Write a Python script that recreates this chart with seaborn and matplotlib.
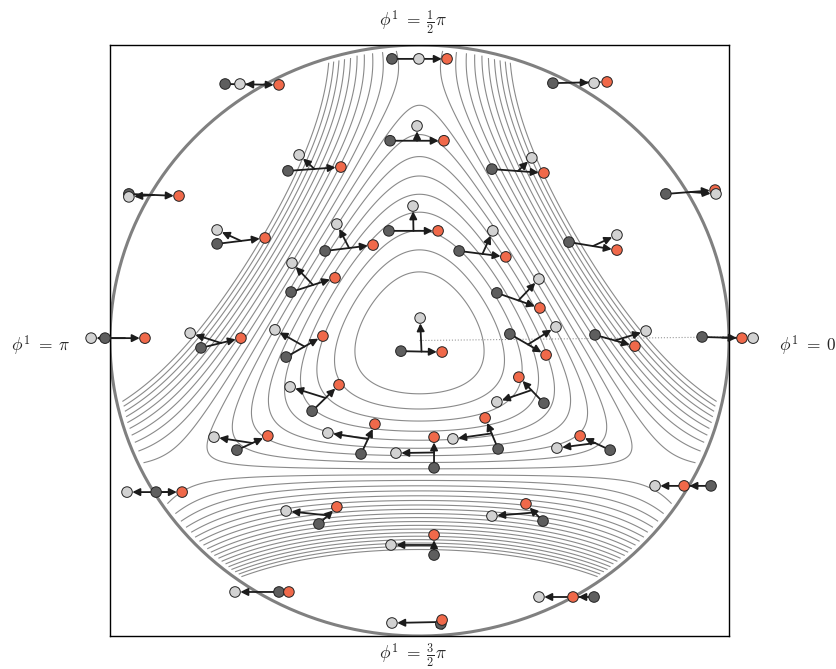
import matplotlib
matplotlib.use('Agg')
import matplotlib.pyplot as plt
import numpy as np
import pandas as pd
import seaborn as sns

# glyph triplets (data coords, unit disk)
dark_x = [-0.628, -0.425, -0.939, -0.654, -0.305, -0.089, -0.095, -0.099, 0.431, 0.234,
          0.796, 0.483, 0.128, -1.016, -0.706, -0.415, -0.431, -0.347, -0.590, -0.189,
          -0.060, 0.250, 0.292, 0.567, 0.913, 0.402, 0.254, 0.616, 0.047, -0.851,
          -0.325, 0.047, -0.454, 0.069, 0.399, 0.564, 0.942]
dark_y = [0.868, 0.574, 0.496, 0.327, 0.303, 0.953, 0.676, 0.371, 0.871, 0.580,
          0.496, 0.333, 0.303, 0.008, -0.025, 0.164, -0.056, -0.239, -0.371, -0.384,
          -0.036, 0.161, 0.022, 0.019, 0.012, -0.212, -0.367, -0.371, -0.431, -0.513,
          -0.621, -0.726, -0.851, -0.959, -0.611, -0.868, -0.492]
light_x = [-0.580, -0.389, -0.939, -0.654, -0.267, -0.002, -0.008, -0.021, 0.564, 0.363,
           0.958, 0.638, 0.237, -1.061, -0.741, -0.412, -0.467, -0.418, -0.664, -0.296,
           0.002, 0.386, 0.441, 0.732, 1.078, 0.250, 0.108, 0.444, -0.076, -0.945,
           -0.431, -0.092, -0.596, -0.089, 0.234, 0.386, 0.761]
light_y = [0.868, 0.628, 0.486, 0.374, 0.394, 0.953, 0.726, 0.455, 0.871, 0.618,
           0.496, 0.357, 0.371, 0.008, 0.025, 0.262, 0.036, -0.157, -0.327, -0.313,
           0.076, 0.208, 0.046, 0.032, 0.008, -0.208, -0.333, -0.364, -0.381, -0.513,
           -0.577, -0.692, -0.851, -0.956, -0.594, -0.868, -0.492]
orange_x = [-0.454, -0.254, -0.777, -0.499, -0.150, 0.089, 0.079, 0.060, 0.606, 0.402,
            0.955, 0.638, 0.279, -0.887, -0.577, -0.273, -0.312, -0.260, -0.490, -0.144,
            0.073, 0.389, 0.409, 0.696, 1.042, 0.321, 0.212, 0.519, 0.047, -0.767,
            -0.267, 0.047, -0.422, 0.073, 0.344, 0.496, 0.855]
orange_y = [0.865, 0.587, 0.489, 0.347, 0.323, 0.953, 0.676, 0.371, 0.875, 0.567,
            0.509, 0.306, 0.283, 0.008, 0.008, 0.212, 0.015, -0.150, -0.323, -0.283,
            -0.039, 0.110, -0.049, -0.019, 0.008, -0.124, -0.262, -0.323, -0.327, -0.513,
            -0.563, -0.658, -0.851, -0.946, -0.553, -0.868, -0.492]

labels = {
    'top': r'$\phi^1\;=\;\frac{1}{2}\pi$',
    'bottom': r'$\phi^1\;=\;\frac{3}{2}\pi$',
    'left': r'$\phi^1\;=\;\pi$',
    'right': r'$\phi^1\;=\;0$',
}

sns.set_style('white')
plt.rcParams['mathtext.fontset'] = 'cm'

fig = plt.figure(figsize=(8.37, 6.69), dpi=100)
ax = fig.add_axes([110 / 837, 1 - 636 / 669, 619 / 837, 591 / 669])

# background potential (three-fold, Henon-Heiles like)
g = np.linspace(-1, 1, 500)
gx, gy = np.meshgrid(g, g)
a = 1.1
X = a * gx
Y = a * (gy - 0.01)
V = 0.5 * (X**2 + Y**2) + X**2 * Y - Y**3 / 3
V[np.hypot(gx, gy) > 0.985] = np.nan
lev = [(k + 0.5) / 60 for k in range(1, 20)]
ax.contour(gx, gy, V, levels=lev, colors='#8a8a8a', linewidths=0.8, zorder=1)
# the lower rim carries a few more levels in the original
Vb = V.copy()
Vb[gy > -0.4] = np.nan
lev_b = [(k + 0.5) / 60 for k in range(20, 29)]
ax.contour(gx, gy, Vb, levels=lev_b, colors='#8a8a8a', linewidths=0.8, zorder=1)

t = np.linspace(0, 2 * np.pi, 600)
ax.plot(np.cos(t), np.sin(t), color='#808080', lw=2.2, zorder=2)
ax.plot([0, 1], [0, 0.012], ls=':', color='#9a9a9a', lw=0.8, zorder=2)

# arrows: dark -> orange, midpoint -> light
sx, sy = 309.5, 295.5
for i in range(len(dark_x)):
    ax.annotate('', xy=(orange_x[i], orange_y[i]), xytext=(dark_x[i], dark_y[i]),
                arrowprops=dict(arrowstyle='-|>', color='#1c1c1c', lw=1.3,
                                shrinkA=0, shrinkB=3.8, mutation_scale=11),
                annotation_clip=False, zorder=4)
    mx = 0.5 * (dark_x[i] + orange_x[i])
    my = 0.5 * (dark_y[i] + orange_y[i])
    dpx = np.hypot((light_x[i] - mx) * sx, (light_y[i] - my) * sy)
    if dpx > 7:
        ax.annotate('', xy=(light_x[i], light_y[i]), xytext=(mx, my),
                    arrowprops=dict(arrowstyle='-|>', color='#1c1c1c', lw=1.3,
                                    shrinkA=0, shrinkB=3.8, mutation_scale=11),
                    annotation_clip=False, zorder=4)

n = len(dark_x)
df = pd.DataFrame({
    'x': dark_x + orange_x + light_x,
    'y': dark_y + orange_y + light_y,
    'kind': ['dark'] * n + ['orange'] * n + ['light'] * n,
})
pal = {'dark': '#5e5e5e', 'light': '#d2d2d2', 'orange': '#f0694a'}
sns.scatterplot(data=df, x='x', y='y', hue='kind', palette=pal, s=58,
                edgecolor='#222222', linewidth=0.7, legend=False, ax=ax,
                zorder=5, clip_on=False)

ax.set_xlim(-1, 1)
ax.set_ylim(-1, 1)
ax.set_xticks([])
ax.set_yticks([])
ax.set_xlabel('')
ax.set_ylabel('')
for sp in ax.spines.values():
    sp.set_color('black')
    sp.set_linewidth(1.0)

fs = 12.5
fig.text(413 / 837, 1 - 22 / 669, labels['top'], ha='center', va='center', fontsize=fs)
fig.text(413 / 837, 1 - 655 / 669, labels['bottom'], ha='center', va='center', fontsize=fs)
fig.text(41 / 837, 1 - 346 / 669, labels['left'], ha='center', va='center', fontsize=fs)
fig.text(808 / 837, 1 - 346 / 669, labels['right'], ha='center', va='center', fontsize=fs)

fig.savefig('out.png', dpi=100)
